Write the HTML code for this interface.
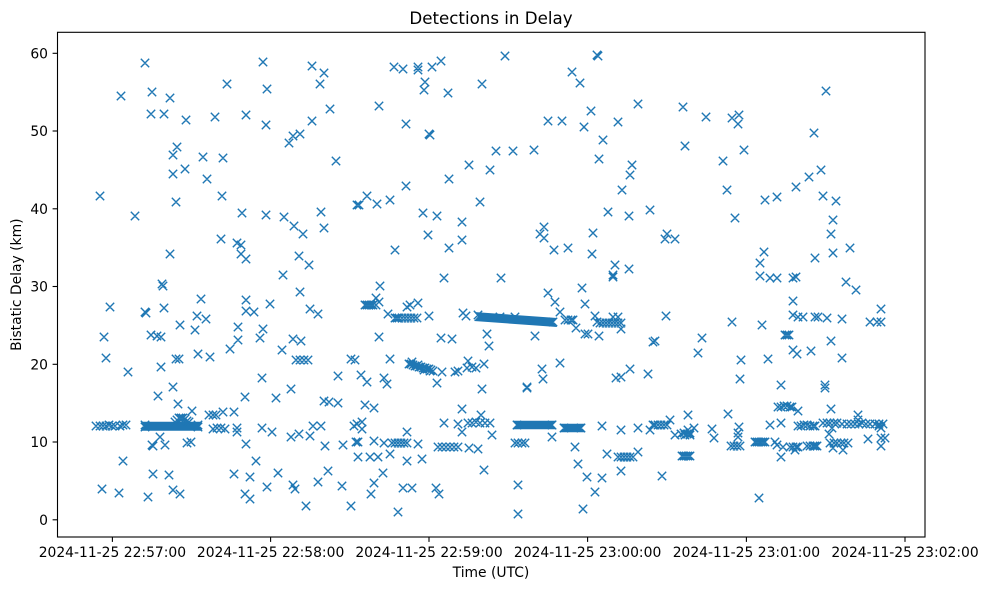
<!DOCTYPE html>
<html><head><meta charset="utf-8"><style>html,body{margin:0;padding:0;background:#fff}svg{display:block}text{font-family:"DejaVu Sans","Liberation Sans",sans-serif;fill:#000}</style></head><body>
<svg width="987" height="590" viewBox="0 0 987 590" xmlns="http://www.w3.org/2000/svg">
<rect width="987" height="590" fill="#fff"/>
<g fill="#1f77b4" stroke="none">
<polygon points="141,421.8 202,421.8 198,426.3 202,430.8 141,430.8 145,426.3"/>
<polygon points="474,312 557,318 553,322.5 557,327 474,321 478,316.5"/>
<polygon points="513.3,420.8 556.7,420.8 552.5,425 556.7,429.2 513.3,429.2 517.5,425"/>
<polygon points="560,423.8 585,423.8 581,428 585,432.2 560,432.2 564,428"/>
</g>
<path fill="none" stroke="#1f77b4" stroke-width="1.4" d="
M145 63m-4.2-4.2l8.4 8.4m-8.4 0l8.4-8.4M263 62m-4.2-4.2l8.4 8.4m-8.4 0l8.4-8.4M312 66m-4.2-4.2l8.4 8.4m-8.4 0l8.4-8.4M324 73m-4.2-4.2l8.4 8.4m-8.4 0l8.4-8.4M227 84m-4.2-4.2l8.4 8.4m-8.4 0l8.4-8.4M320 84m-4.2-4.2l8.4 8.4m-8.4 0l8.4-8.4M121 96m-4.2-4.2l8.4 8.4m-8.4 0l8.4-8.4M152 92m-4.2-4.2l8.4 8.4m-8.4 0l8.4-8.4M170 98m-4.2-4.2l8.4 8.4m-8.4 0l8.4-8.4M267 89m-4.2-4.2l8.4 8.4m-8.4 0l8.4-8.4M151 114m-4.2-4.2l8.4 8.4m-8.4 0l8.4-8.4M164 114m-4.2-4.2l8.4 8.4m-8.4 0l8.4-8.4M186 120m-4.2-4.2l8.4 8.4m-8.4 0l8.4-8.4M215 117m-4.2-4.2l8.4 8.4m-8.4 0l8.4-8.4M246 115m-4.2-4.2l8.4 8.4m-8.4 0l8.4-8.4M266 125m-4.2-4.2l8.4 8.4m-8.4 0l8.4-8.4M312 121m-4.2-4.2l8.4 8.4m-8.4 0l8.4-8.4M330 109m-4.2-4.2l8.4 8.4m-8.4 0l8.4-8.4M293 136m-4.2-4.2l8.4 8.4m-8.4 0l8.4-8.4M300 134m-4.2-4.2l8.4 8.4m-8.4 0l8.4-8.4M289 143m-4.2-4.2l8.4 8.4m-8.4 0l8.4-8.4M177 147m-4.2-4.2l8.4 8.4m-8.4 0l8.4-8.4M173 155m-4.2-4.2l8.4 8.4m-8.4 0l8.4-8.4M203 157m-4.2-4.2l8.4 8.4m-8.4 0l8.4-8.4M223 158m-4.2-4.2l8.4 8.4m-8.4 0l8.4-8.4M336 161m-4.2-4.2l8.4 8.4m-8.4 0l8.4-8.4M173 174m-4.2-4.2l8.4 8.4m-8.4 0l8.4-8.4M185 169m-4.2-4.2l8.4 8.4m-8.4 0l8.4-8.4M207 179m-4.2-4.2l8.4 8.4m-8.4 0l8.4-8.4M100 196m-4.2-4.2l8.4 8.4m-8.4 0l8.4-8.4M222 196m-4.2-4.2l8.4 8.4m-8.4 0l8.4-8.4M135 216m-4.2-4.2l8.4 8.4m-8.4 0l8.4-8.4M176 202m-4.2-4.2l8.4 8.4m-8.4 0l8.4-8.4M242 213m-4.2-4.2l8.4 8.4m-8.4 0l8.4-8.4M266 215m-4.2-4.2l8.4 8.4m-8.4 0l8.4-8.4M284 217m-4.2-4.2l8.4 8.4m-8.4 0l8.4-8.4M294 226m-4.2-4.2l8.4 8.4m-8.4 0l8.4-8.4M303 234m-4.2-4.2l8.4 8.4m-8.4 0l8.4-8.4M321 212m-4.2-4.2l8.4 8.4m-8.4 0l8.4-8.4M324 228m-4.2-4.2l8.4 8.4m-8.4 0l8.4-8.4M357 205m-4.2-4.2l8.4 8.4m-8.4 0l8.4-8.4M221 239m-4.2-4.2l8.4 8.4m-8.4 0l8.4-8.4M237 243m-4.2-4.2l8.4 8.4m-8.4 0l8.4-8.4M241 245m-4.2-4.2l8.4 8.4m-8.4 0l8.4-8.4M241 254m-4.2-4.2l8.4 8.4m-8.4 0l8.4-8.4M246 259m-4.2-4.2l8.4 8.4m-8.4 0l8.4-8.4M170 254m-4.2-4.2l8.4 8.4m-8.4 0l8.4-8.4M299 256m-4.2-4.2l8.4 8.4m-8.4 0l8.4-8.4M309 265m-4.2-4.2l8.4 8.4m-8.4 0l8.4-8.4M283 275m-4.2-4.2l8.4 8.4m-8.4 0l8.4-8.4
M162 284m-4.2-4.2l8.4 8.4m-8.4 0l8.4-8.4M163 286m-4.2-4.2l8.4 8.4m-8.4 0l8.4-8.4M110 307m-4.2-4.2l8.4 8.4m-8.4 0l8.4-8.4M145 312m-4.2-4.2l8.4 8.4m-8.4 0l8.4-8.4M146 313m-4.2-4.2l8.4 8.4m-8.4 0l8.4-8.4M164 308m-4.2-4.2l8.4 8.4m-8.4 0l8.4-8.4M201 299m-4.2-4.2l8.4 8.4m-8.4 0l8.4-8.4M246 300m-4.2-4.2l8.4 8.4m-8.4 0l8.4-8.4M300 292m-4.2-4.2l8.4 8.4m-8.4 0l8.4-8.4M270 304m-4.2-4.2l8.4 8.4m-8.4 0l8.4-8.4M246 311m-4.2-4.2l8.4 8.4m-8.4 0l8.4-8.4M254 312m-4.2-4.2l8.4 8.4m-8.4 0l8.4-8.4M310 309m-4.2-4.2l8.4 8.4m-8.4 0l8.4-8.4M318 314m-4.2-4.2l8.4 8.4m-8.4 0l8.4-8.4M197 316m-4.2-4.2l8.4 8.4m-8.4 0l8.4-8.4M206 319m-4.2-4.2l8.4 8.4m-8.4 0l8.4-8.4M180 325m-4.2-4.2l8.4 8.4m-8.4 0l8.4-8.4M238 327m-4.2-4.2l8.4 8.4m-8.4 0l8.4-8.4M263 329m-4.2-4.2l8.4 8.4m-8.4 0l8.4-8.4M104 337m-4.2-4.2l8.4 8.4m-8.4 0l8.4-8.4M151 335m-4.2-4.2l8.4 8.4m-8.4 0l8.4-8.4M157 336m-4.2-4.2l8.4 8.4m-8.4 0l8.4-8.4M161 337m-4.2-4.2l8.4 8.4m-8.4 0l8.4-8.4M195 330m-4.2-4.2l8.4 8.4m-8.4 0l8.4-8.4M238 340m-4.2-4.2l8.4 8.4m-8.4 0l8.4-8.4M260 338m-4.2-4.2l8.4 8.4m-8.4 0l8.4-8.4M293 339m-4.2-4.2l8.4 8.4m-8.4 0l8.4-8.4M301 341m-4.2-4.2l8.4 8.4m-8.4 0l8.4-8.4M230 349m-4.2-4.2l8.4 8.4m-8.4 0l8.4-8.4M282 350m-4.2-4.2l8.4 8.4m-8.4 0l8.4-8.4M106 358m-4.2-4.2l8.4 8.4m-8.4 0l8.4-8.4M176 359m-4.2-4.2l8.4 8.4m-8.4 0l8.4-8.4M179 359m-4.2-4.2l8.4 8.4m-8.4 0l8.4-8.4M198 354m-4.2-4.2l8.4 8.4m-8.4 0l8.4-8.4M210 357m-4.2-4.2l8.4 8.4m-8.4 0l8.4-8.4M296 360m-4.2-4.2l8.4 8.4m-8.4 0l8.4-8.4M300 360m-4.2-4.2l8.4 8.4m-8.4 0l8.4-8.4M304 360m-4.2-4.2l8.4 8.4m-8.4 0l8.4-8.4M308 360m-4.2-4.2l8.4 8.4m-8.4 0l8.4-8.4M351 359m-4.2-4.2l8.4 8.4m-8.4 0l8.4-8.4M128 372m-4.2-4.2l8.4 8.4m-8.4 0l8.4-8.4M161 367m-4.2-4.2l8.4 8.4m-8.4 0l8.4-8.4M262 378m-4.2-4.2l8.4 8.4m-8.4 0l8.4-8.4M338 376m-4.2-4.2l8.4 8.4m-8.4 0l8.4-8.4M173 387m-4.2-4.2l8.4 8.4m-8.4 0l8.4-8.4M158 396m-4.2-4.2l8.4 8.4m-8.4 0l8.4-8.4M245 397m-4.2-4.2l8.4 8.4m-8.4 0l8.4-8.4M276 398m-4.2-4.2l8.4 8.4m-8.4 0l8.4-8.4M291 389m-4.2-4.2l8.4 8.4m-8.4 0l8.4-8.4M178 404m-4.2-4.2l8.4 8.4m-8.4 0l8.4-8.4M192 411m-4.2-4.2l8.4 8.4m-8.4 0l8.4-8.4M324 401m-4.2-4.2l8.4 8.4m-8.4 0l8.4-8.4M329 402m-4.2-4.2l8.4 8.4m-8.4 0l8.4-8.4M338 403m-4.2-4.2l8.4 8.4m-8.4 0l8.4-8.4M209 415m-4.2-4.2l8.4 8.4m-8.4 0l8.4-8.4M213 415m-4.2-4.2l8.4 8.4m-8.4 0l8.4-8.4M216 415m-4.2-4.2l8.4 8.4m-8.4 0l8.4-8.4M223 412m-4.2-4.2l8.4 8.4m-8.4 0l8.4-8.4M234 412m-4.2-4.2l8.4 8.4m-8.4 0l8.4-8.4
M96 426m-4.2-4.2l8.4 8.4m-8.4 0l8.4-8.4M100 426m-4.2-4.2l8.4 8.4m-8.4 0l8.4-8.4M103 426m-4.2-4.2l8.4 8.4m-8.4 0l8.4-8.4M106 426m-4.2-4.2l8.4 8.4m-8.4 0l8.4-8.4M109 425m-4.2-4.2l8.4 8.4m-8.4 0l8.4-8.4M112 426m-4.2-4.2l8.4 8.4m-8.4 0l8.4-8.4M115 426m-4.2-4.2l8.4 8.4m-8.4 0l8.4-8.4M120 426m-4.2-4.2l8.4 8.4m-8.4 0l8.4-8.4M123 425m-4.2-4.2l8.4 8.4m-8.4 0l8.4-8.4M126 425m-4.2-4.2l8.4 8.4m-8.4 0l8.4-8.4
M145 425m-4.2-4.2l8.4 8.4m-8.4 0l8.4-8.4M145 427m-4.2-4.2l8.4 8.4m-8.4 0l8.4-8.4M198 425m-4.2-4.2l8.4 8.4m-8.4 0l8.4-8.4M198 427m-4.2-4.2l8.4 8.4m-8.4 0l8.4-8.4M177 420m-4.2-4.2l8.4 8.4m-8.4 0l8.4-8.4M179 418m-4.2-4.2l8.4 8.4m-8.4 0l8.4-8.4M181 418m-4.2-4.2l8.4 8.4m-8.4 0l8.4-8.4M183 418m-4.2-4.2l8.4 8.4m-8.4 0l8.4-8.4M185 419m-4.2-4.2l8.4 8.4m-8.4 0l8.4-8.4M187 421m-4.2-4.2l8.4 8.4m-8.4 0l8.4-8.4M175 422m-4.2-4.2l8.4 8.4m-8.4 0l8.4-8.4M189 422m-4.2-4.2l8.4 8.4m-8.4 0l8.4-8.4
M213 429m-4.2-4.2l8.4 8.4m-8.4 0l8.4-8.4M217 428m-4.2-4.2l8.4 8.4m-8.4 0l8.4-8.4M221 428m-4.2-4.2l8.4 8.4m-8.4 0l8.4-8.4M225 429m-4.2-4.2l8.4 8.4m-8.4 0l8.4-8.4M237 428m-4.2-4.2l8.4 8.4m-8.4 0l8.4-8.4M237 432m-4.2-4.2l8.4 8.4m-8.4 0l8.4-8.4M262 428m-4.2-4.2l8.4 8.4m-8.4 0l8.4-8.4M272 432m-4.2-4.2l8.4 8.4m-8.4 0l8.4-8.4M291 437m-4.2-4.2l8.4 8.4m-8.4 0l8.4-8.4M299 434m-4.2-4.2l8.4 8.4m-8.4 0l8.4-8.4M310 436m-4.2-4.2l8.4 8.4m-8.4 0l8.4-8.4M313 426m-4.2-4.2l8.4 8.4m-8.4 0l8.4-8.4M321 426m-4.2-4.2l8.4 8.4m-8.4 0l8.4-8.4M354 426m-4.2-4.2l8.4 8.4m-8.4 0l8.4-8.4M160 437m-4.2-4.2l8.4 8.4m-8.4 0l8.4-8.4M152 445m-4.2-4.2l8.4 8.4m-8.4 0l8.4-8.4M153 446m-4.2-4.2l8.4 8.4m-8.4 0l8.4-8.4M165 445m-4.2-4.2l8.4 8.4m-8.4 0l8.4-8.4M187 443m-4.2-4.2l8.4 8.4m-8.4 0l8.4-8.4M191 442m-4.2-4.2l8.4 8.4m-8.4 0l8.4-8.4M246 444m-4.2-4.2l8.4 8.4m-8.4 0l8.4-8.4M325 446m-4.2-4.2l8.4 8.4m-8.4 0l8.4-8.4M343 445m-4.2-4.2l8.4 8.4m-8.4 0l8.4-8.4M356 442m-4.2-4.2l8.4 8.4m-8.4 0l8.4-8.4M358 457m-4.2-4.2l8.4 8.4m-8.4 0l8.4-8.4M123 461m-4.2-4.2l8.4 8.4m-8.4 0l8.4-8.4M256 461m-4.2-4.2l8.4 8.4m-8.4 0l8.4-8.4M153 474m-4.2-4.2l8.4 8.4m-8.4 0l8.4-8.4M169 475m-4.2-4.2l8.4 8.4m-8.4 0l8.4-8.4M234 474m-4.2-4.2l8.4 8.4m-8.4 0l8.4-8.4M250 477m-4.2-4.2l8.4 8.4m-8.4 0l8.4-8.4M278 473m-4.2-4.2l8.4 8.4m-8.4 0l8.4-8.4M328 471m-4.2-4.2l8.4 8.4m-8.4 0l8.4-8.4M318 482m-4.2-4.2l8.4 8.4m-8.4 0l8.4-8.4M102 489m-4.2-4.2l8.4 8.4m-8.4 0l8.4-8.4M119 493m-4.2-4.2l8.4 8.4m-8.4 0l8.4-8.4M148 497m-4.2-4.2l8.4 8.4m-8.4 0l8.4-8.4M173 490m-4.2-4.2l8.4 8.4m-8.4 0l8.4-8.4M180 494m-4.2-4.2l8.4 8.4m-8.4 0l8.4-8.4M245 494m-4.2-4.2l8.4 8.4m-8.4 0l8.4-8.4M250 499m-4.2-4.2l8.4 8.4m-8.4 0l8.4-8.4M267 487m-4.2-4.2l8.4 8.4m-8.4 0l8.4-8.4M293 485m-4.2-4.2l8.4 8.4m-8.4 0l8.4-8.4M295 489m-4.2-4.2l8.4 8.4m-8.4 0l8.4-8.4M342 486m-4.2-4.2l8.4 8.4m-8.4 0l8.4-8.4M306 506m-4.2-4.2l8.4 8.4m-8.4 0l8.4-8.4M351 506m-4.2-4.2l8.4 8.4m-8.4 0l8.4-8.4
M394 67m-4.2-4.2l8.4 8.4m-8.4 0l8.4-8.4M403 69m-4.2-4.2l8.4 8.4m-8.4 0l8.4-8.4M418 67m-4.2-4.2l8.4 8.4m-8.4 0l8.4-8.4M418 70m-4.2-4.2l8.4 8.4m-8.4 0l8.4-8.4M432 67m-4.2-4.2l8.4 8.4m-8.4 0l8.4-8.4M441 61m-4.2-4.2l8.4 8.4m-8.4 0l8.4-8.4M505 56m-4.2-4.2l8.4 8.4m-8.4 0l8.4-8.4M597 55m-4.2-4.2l8.4 8.4m-8.4 0l8.4-8.4M598 56m-4.2-4.2l8.4 8.4m-8.4 0l8.4-8.4M572 72m-4.2-4.2l8.4 8.4m-8.4 0l8.4-8.4M580 83m-4.2-4.2l8.4 8.4m-8.4 0l8.4-8.4M425 82m-4.2-4.2l8.4 8.4m-8.4 0l8.4-8.4M424 90m-4.2-4.2l8.4 8.4m-8.4 0l8.4-8.4M448 93m-4.2-4.2l8.4 8.4m-8.4 0l8.4-8.4M482 84m-4.2-4.2l8.4 8.4m-8.4 0l8.4-8.4M379 106m-4.2-4.2l8.4 8.4m-8.4 0l8.4-8.4M638 104m-4.2-4.2l8.4 8.4m-8.4 0l8.4-8.4M591 111m-4.2-4.2l8.4 8.4m-8.4 0l8.4-8.4M548 121m-4.2-4.2l8.4 8.4m-8.4 0l8.4-8.4M562 121m-4.2-4.2l8.4 8.4m-8.4 0l8.4-8.4M584 127m-4.2-4.2l8.4 8.4m-8.4 0l8.4-8.4M618 122m-4.2-4.2l8.4 8.4m-8.4 0l8.4-8.4M406 124m-4.2-4.2l8.4 8.4m-8.4 0l8.4-8.4M429 134m-4.2-4.2l8.4 8.4m-8.4 0l8.4-8.4M430 135m-4.2-4.2l8.4 8.4m-8.4 0l8.4-8.4M603 140m-4.2-4.2l8.4 8.4m-8.4 0l8.4-8.4M496 151m-4.2-4.2l8.4 8.4m-8.4 0l8.4-8.4M513 151m-4.2-4.2l8.4 8.4m-8.4 0l8.4-8.4M534 150m-4.2-4.2l8.4 8.4m-8.4 0l8.4-8.4M599 159m-4.2-4.2l8.4 8.4m-8.4 0l8.4-8.4M469 165m-4.2-4.2l8.4 8.4m-8.4 0l8.4-8.4M490 170m-4.2-4.2l8.4 8.4m-8.4 0l8.4-8.4M632 165m-4.2-4.2l8.4 8.4m-8.4 0l8.4-8.4M630 175m-4.2-4.2l8.4 8.4m-8.4 0l8.4-8.4M449 179m-4.2-4.2l8.4 8.4m-8.4 0l8.4-8.4M622 190m-4.2-4.2l8.4 8.4m-8.4 0l8.4-8.4M406 186m-4.2-4.2l8.4 8.4m-8.4 0l8.4-8.4M367 196m-4.2-4.2l8.4 8.4m-8.4 0l8.4-8.4M359 205m-4.2-4.2l8.4 8.4m-8.4 0l8.4-8.4M377 204m-4.2-4.2l8.4 8.4m-8.4 0l8.4-8.4M390 200m-4.2-4.2l8.4 8.4m-8.4 0l8.4-8.4M480 202m-4.2-4.2l8.4 8.4m-8.4 0l8.4-8.4M423 213m-4.2-4.2l8.4 8.4m-8.4 0l8.4-8.4M437 216m-4.2-4.2l8.4 8.4m-8.4 0l8.4-8.4M462 222m-4.2-4.2l8.4 8.4m-8.4 0l8.4-8.4M428 235m-4.2-4.2l8.4 8.4m-8.4 0l8.4-8.4M462 240m-4.2-4.2l8.4 8.4m-8.4 0l8.4-8.4M608 212m-4.2-4.2l8.4 8.4m-8.4 0l8.4-8.4M629 216m-4.2-4.2l8.4 8.4m-8.4 0l8.4-8.4M650 210m-4.2-4.2l8.4 8.4m-8.4 0l8.4-8.4M544 227m-4.2-4.2l8.4 8.4m-8.4 0l8.4-8.4M540 234m-4.2-4.2l8.4 8.4m-8.4 0l8.4-8.4M544 238m-4.2-4.2l8.4 8.4m-8.4 0l8.4-8.4M593 233m-4.2-4.2l8.4 8.4m-8.4 0l8.4-8.4M395 250m-4.2-4.2l8.4 8.4m-8.4 0l8.4-8.4M449 248m-4.2-4.2l8.4 8.4m-8.4 0l8.4-8.4M554 250m-4.2-4.2l8.4 8.4m-8.4 0l8.4-8.4M568 248m-4.2-4.2l8.4 8.4m-8.4 0l8.4-8.4M592 254m-4.2-4.2l8.4 8.4m-8.4 0l8.4-8.4M615 265m-4.2-4.2l8.4 8.4m-8.4 0l8.4-8.4M629 269m-4.2-4.2l8.4 8.4m-8.4 0l8.4-8.4M613 275m-4.2-4.2l8.4 8.4m-8.4 0l8.4-8.4M444 278m-4.2-4.2l8.4 8.4m-8.4 0l8.4-8.4M501 278m-4.2-4.2l8.4 8.4m-8.4 0l8.4-8.4
M613 277m-4.2-4.2l8.4 8.4m-8.4 0l8.4-8.4M380 286m-4.2-4.2l8.4 8.4m-8.4 0l8.4-8.4M376 298m-4.2-4.2l8.4 8.4m-8.4 0l8.4-8.4M379 302m-4.2-4.2l8.4 8.4m-8.4 0l8.4-8.4M365 305m-4.2-4.2l8.4 8.4m-8.4 0l8.4-8.4M367 305m-4.2-4.2l8.4 8.4m-8.4 0l8.4-8.4M369 305m-4.2-4.2l8.4 8.4m-8.4 0l8.4-8.4M371 305m-4.2-4.2l8.4 8.4m-8.4 0l8.4-8.4M373 305m-4.2-4.2l8.4 8.4m-8.4 0l8.4-8.4M376 305m-4.2-4.2l8.4 8.4m-8.4 0l8.4-8.4M388 314m-4.2-4.2l8.4 8.4m-8.4 0l8.4-8.4M395 318m-4.2-4.2l8.4 8.4m-8.4 0l8.4-8.4M397 318m-4.2-4.2l8.4 8.4m-8.4 0l8.4-8.4M399 318m-4.2-4.2l8.4 8.4m-8.4 0l8.4-8.4M402 318m-4.2-4.2l8.4 8.4m-8.4 0l8.4-8.4M407 307m-4.2-4.2l8.4 8.4m-8.4 0l8.4-8.4M410 305m-4.2-4.2l8.4 8.4m-8.4 0l8.4-8.4M418 303m-4.2-4.2l8.4 8.4m-8.4 0l8.4-8.4M405 318m-4.2-4.2l8.4 8.4m-8.4 0l8.4-8.4M408 318m-4.2-4.2l8.4 8.4m-8.4 0l8.4-8.4M411 318m-4.2-4.2l8.4 8.4m-8.4 0l8.4-8.4M414 318m-4.2-4.2l8.4 8.4m-8.4 0l8.4-8.4M417 318m-4.2-4.2l8.4 8.4m-8.4 0l8.4-8.4M429 316m-4.2-4.2l8.4 8.4m-8.4 0l8.4-8.4M548 293m-4.2-4.2l8.4 8.4m-8.4 0l8.4-8.4M555 302m-4.2-4.2l8.4 8.4m-8.4 0l8.4-8.4M582 288m-4.2-4.2l8.4 8.4m-8.4 0l8.4-8.4M585 304m-4.2-4.2l8.4 8.4m-8.4 0l8.4-8.4M463 313m-4.2-4.2l8.4 8.4m-8.4 0l8.4-8.4M466 316m-4.2-4.2l8.4 8.4m-8.4 0l8.4-8.4M478 315m-4.2-4.2l8.4 8.4m-8.4 0l8.4-8.4M553 322m-4.2-4.2l8.4 8.4m-8.4 0l8.4-8.4M500 317m-4.2-4.2l8.4 8.4m-8.4 0l8.4-8.4M515 317m-4.2-4.2l8.4 8.4m-8.4 0l8.4-8.4M560 312m-4.2-4.2l8.4 8.4m-8.4 0l8.4-8.4M565 320m-4.2-4.2l8.4 8.4m-8.4 0l8.4-8.4M568 320m-4.2-4.2l8.4 8.4m-8.4 0l8.4-8.4M571 320m-4.2-4.2l8.4 8.4m-8.4 0l8.4-8.4M573 320m-4.2-4.2l8.4 8.4m-8.4 0l8.4-8.4M576 328m-4.2-4.2l8.4 8.4m-8.4 0l8.4-8.4M585 334m-4.2-4.2l8.4 8.4m-8.4 0l8.4-8.4M588 334m-4.2-4.2l8.4 8.4m-8.4 0l8.4-8.4M595 316m-4.2-4.2l8.4 8.4m-8.4 0l8.4-8.4M597 322m-4.2-4.2l8.4 8.4m-8.4 0l8.4-8.4M600 323m-4.2-4.2l8.4 8.4m-8.4 0l8.4-8.4M603 323m-4.2-4.2l8.4 8.4m-8.4 0l8.4-8.4M606 323m-4.2-4.2l8.4 8.4m-8.4 0l8.4-8.4M609 323m-4.2-4.2l8.4 8.4m-8.4 0l8.4-8.4M612 323m-4.2-4.2l8.4 8.4m-8.4 0l8.4-8.4M615 323m-4.2-4.2l8.4 8.4m-8.4 0l8.4-8.4M618 323m-4.2-4.2l8.4 8.4m-8.4 0l8.4-8.4M621 323m-4.2-4.2l8.4 8.4m-8.4 0l8.4-8.4M613 317m-4.2-4.2l8.4 8.4m-8.4 0l8.4-8.4M618 317m-4.2-4.2l8.4 8.4m-8.4 0l8.4-8.4M621 329m-4.2-4.2l8.4 8.4m-8.4 0l8.4-8.4M599 336m-4.2-4.2l8.4 8.4m-8.4 0l8.4-8.4M535 336m-4.2-4.2l8.4 8.4m-8.4 0l8.4-8.4M487 334m-4.2-4.2l8.4 8.4m-8.4 0l8.4-8.4M489 346m-4.2-4.2l8.4 8.4m-8.4 0l8.4-8.4M441 338m-4.2-4.2l8.4 8.4m-8.4 0l8.4-8.4M452 339m-4.2-4.2l8.4 8.4m-8.4 0l8.4-8.4M379 337m-4.2-4.2l8.4 8.4m-8.4 0l8.4-8.4M653 342m-4.2-4.2l8.4 8.4m-8.4 0l8.4-8.4M390 359m-4.2-4.2l8.4 8.4m-8.4 0l8.4-8.4
M409 364m-4.2-4.2l8.4 8.4m-8.4 0l8.4-8.4M411 364m-4.2-4.2l8.4 8.4m-8.4 0l8.4-8.4M413 365m-4.2-4.2l8.4 8.4m-8.4 0l8.4-8.4M415 366m-4.2-4.2l8.4 8.4m-8.4 0l8.4-8.4M417 366m-4.2-4.2l8.4 8.4m-8.4 0l8.4-8.4M419 367m-4.2-4.2l8.4 8.4m-8.4 0l8.4-8.4M421 367m-4.2-4.2l8.4 8.4m-8.4 0l8.4-8.4M423 368m-4.2-4.2l8.4 8.4m-8.4 0l8.4-8.4M425 368m-4.2-4.2l8.4 8.4m-8.4 0l8.4-8.4M427 369m-4.2-4.2l8.4 8.4m-8.4 0l8.4-8.4M429 369m-4.2-4.2l8.4 8.4m-8.4 0l8.4-8.4M431 370m-4.2-4.2l8.4 8.4m-8.4 0l8.4-8.4M433 371m-4.2-4.2l8.4 8.4m-8.4 0l8.4-8.4M412 362m-4.2-4.2l8.4 8.4m-8.4 0l8.4-8.4M418 365m-4.2-4.2l8.4 8.4m-8.4 0l8.4-8.4M424 370m-4.2-4.2l8.4 8.4m-8.4 0l8.4-8.4M430 371m-4.2-4.2l8.4 8.4m-8.4 0l8.4-8.4
M442 372m-4.2-4.2l8.4 8.4m-8.4 0l8.4-8.4M455 372m-4.2-4.2l8.4 8.4m-8.4 0l8.4-8.4M458 371m-4.2-4.2l8.4 8.4m-8.4 0l8.4-8.4M468 361m-4.2-4.2l8.4 8.4m-8.4 0l8.4-8.4M467 368m-4.2-4.2l8.4 8.4m-8.4 0l8.4-8.4M472 367m-4.2-4.2l8.4 8.4m-8.4 0l8.4-8.4M476 368m-4.2-4.2l8.4 8.4m-8.4 0l8.4-8.4M484 364m-4.2-4.2l8.4 8.4m-8.4 0l8.4-8.4M542 369m-4.2-4.2l8.4 8.4m-8.4 0l8.4-8.4M543 379m-4.2-4.2l8.4 8.4m-8.4 0l8.4-8.4M560 363m-4.2-4.2l8.4 8.4m-8.4 0l8.4-8.4M527 387m-4.2-4.2l8.4 8.4m-8.4 0l8.4-8.4M527 388m-4.2-4.2l8.4 8.4m-8.4 0l8.4-8.4M482 389m-4.2-4.2l8.4 8.4m-8.4 0l8.4-8.4M437 383m-4.2-4.2l8.4 8.4m-8.4 0l8.4-8.4M361 375m-4.2-4.2l8.4 8.4m-8.4 0l8.4-8.4M367 382m-4.2-4.2l8.4 8.4m-8.4 0l8.4-8.4M384 378m-4.2-4.2l8.4 8.4m-8.4 0l8.4-8.4M387 384m-4.2-4.2l8.4 8.4m-8.4 0l8.4-8.4M355 360m-4.2-4.2l8.4 8.4m-8.4 0l8.4-8.4M616 378m-4.2-4.2l8.4 8.4m-8.4 0l8.4-8.4M621 377m-4.2-4.2l8.4 8.4m-8.4 0l8.4-8.4M630 369m-4.2-4.2l8.4 8.4m-8.4 0l8.4-8.4M648 374m-4.2-4.2l8.4 8.4m-8.4 0l8.4-8.4M365 405m-4.2-4.2l8.4 8.4m-8.4 0l8.4-8.4M374 408m-4.2-4.2l8.4 8.4m-8.4 0l8.4-8.4M462 409m-4.2-4.2l8.4 8.4m-8.4 0l8.4-8.4M481 415m-4.2-4.2l8.4 8.4m-8.4 0l8.4-8.4M362 422m-4.2-4.2l8.4 8.4m-8.4 0l8.4-8.4M357 424m-4.2-4.2l8.4 8.4m-8.4 0l8.4-8.4M362 429m-4.2-4.2l8.4 8.4m-8.4 0l8.4-8.4M444 423m-4.2-4.2l8.4 8.4m-8.4 0l8.4-8.4M458 424m-4.2-4.2l8.4 8.4m-8.4 0l8.4-8.4M462 432m-4.2-4.2l8.4 8.4m-8.4 0l8.4-8.4M468 423m-4.2-4.2l8.4 8.4m-8.4 0l8.4-8.4M472 423m-4.2-4.2l8.4 8.4m-8.4 0l8.4-8.4M476 422m-4.2-4.2l8.4 8.4m-8.4 0l8.4-8.4M480 423m-4.2-4.2l8.4 8.4m-8.4 0l8.4-8.4M485 423m-4.2-4.2l8.4 8.4m-8.4 0l8.4-8.4M490 423m-4.2-4.2l8.4 8.4m-8.4 0l8.4-8.4M492 435m-4.2-4.2l8.4 8.4m-8.4 0l8.4-8.4M517 425m-4.2-4.2l8.4 8.4m-8.4 0l8.4-8.4M552 425m-4.2-4.2l8.4 8.4m-8.4 0l8.4-8.4M564 428m-4.2-4.2l8.4 8.4m-8.4 0l8.4-8.4M581 428m-4.2-4.2l8.4 8.4m-8.4 0l8.4-8.4M602 426m-4.2-4.2l8.4 8.4m-8.4 0l8.4-8.4M621 430m-4.2-4.2l8.4 8.4m-8.4 0l8.4-8.4M638 428m-4.2-4.2l8.4 8.4m-8.4 0l8.4-8.4M650 430m-4.2-4.2l8.4 8.4m-8.4 0l8.4-8.4M653 425m-4.2-4.2l8.4 8.4m-8.4 0l8.4-8.4M407 432m-4.2-4.2l8.4 8.4m-8.4 0l8.4-8.4M552 437m-4.2-4.2l8.4 8.4m-8.4 0l8.4-8.4M358 442m-4.2-4.2l8.4 8.4m-8.4 0l8.4-8.4M374 441m-4.2-4.2l8.4 8.4m-8.4 0l8.4-8.4M384 443m-4.2-4.2l8.4 8.4m-8.4 0l8.4-8.4M392 443m-4.2-4.2l8.4 8.4m-8.4 0l8.4-8.4M395 443m-4.2-4.2l8.4 8.4m-8.4 0l8.4-8.4M398 443m-4.2-4.2l8.4 8.4m-8.4 0l8.4-8.4M401 443m-4.2-4.2l8.4 8.4m-8.4 0l8.4-8.4M404 443m-4.2-4.2l8.4 8.4m-8.4 0l8.4-8.4M407 443m-4.2-4.2l8.4 8.4m-8.4 0l8.4-8.4M418 444m-4.2-4.2l8.4 8.4m-8.4 0l8.4-8.4M438 447m-4.2-4.2l8.4 8.4m-8.4 0l8.4-8.4M442 447m-4.2-4.2l8.4 8.4m-8.4 0l8.4-8.4M446 447m-4.2-4.2l8.4 8.4m-8.4 0l8.4-8.4M450 447m-4.2-4.2l8.4 8.4m-8.4 0l8.4-8.4M454 447m-4.2-4.2l8.4 8.4m-8.4 0l8.4-8.4M458 447m-4.2-4.2l8.4 8.4m-8.4 0l8.4-8.4M469 448m-4.2-4.2l8.4 8.4m-8.4 0l8.4-8.4M478 449m-4.2-4.2l8.4 8.4m-8.4 0l8.4-8.4M515 443m-4.2-4.2l8.4 8.4m-8.4 0l8.4-8.4M518 443m-4.2-4.2l8.4 8.4m-8.4 0l8.4-8.4M522 443m-4.2-4.2l8.4 8.4m-8.4 0l8.4-8.4M525 443m-4.2-4.2l8.4 8.4m-8.4 0l8.4-8.4M575 447m-4.2-4.2l8.4 8.4m-8.4 0l8.4-8.4M607 454m-4.2-4.2l8.4 8.4m-8.4 0l8.4-8.4M618 457m-4.2-4.2l8.4 8.4m-8.4 0l8.4-8.4M621 457m-4.2-4.2l8.4 8.4m-8.4 0l8.4-8.4M624 457m-4.2-4.2l8.4 8.4m-8.4 0l8.4-8.4M627 457m-4.2-4.2l8.4 8.4m-8.4 0l8.4-8.4M630 457m-4.2-4.2l8.4 8.4m-8.4 0l8.4-8.4M633 457m-4.2-4.2l8.4 8.4m-8.4 0l8.4-8.4M638 452m-4.2-4.2l8.4 8.4m-8.4 0l8.4-8.4M358 457m-4.2-4.2l8.4 8.4m-8.4 0l8.4-8.4M370 457m-4.2-4.2l8.4 8.4m-8.4 0l8.4-8.4M378 457m-4.2-4.2l8.4 8.4m-8.4 0l8.4-8.4M390 454m-4.2-4.2l8.4 8.4m-8.4 0l8.4-8.4M407 461m-4.2-4.2l8.4 8.4m-8.4 0l8.4-8.4M422 459m-4.2-4.2l8.4 8.4m-8.4 0l8.4-8.4M578 464m-4.2-4.2l8.4 8.4m-8.4 0l8.4-8.4M383 473m-4.2-4.2l8.4 8.4m-8.4 0l8.4-8.4M374 483m-4.2-4.2l8.4 8.4m-8.4 0l8.4-8.4M371 494m-4.2-4.2l8.4 8.4m-8.4 0l8.4-8.4M484 470m-4.2-4.2l8.4 8.4m-8.4 0l8.4-8.4M403 488m-4.2-4.2l8.4 8.4m-8.4 0l8.4-8.4M412 488m-4.2-4.2l8.4 8.4m-8.4 0l8.4-8.4M436 488m-4.2-4.2l8.4 8.4m-8.4 0l8.4-8.4M439 494m-4.2-4.2l8.4 8.4m-8.4 0l8.4-8.4M518 485m-4.2-4.2l8.4 8.4m-8.4 0l8.4-8.4M587 477m-4.2-4.2l8.4 8.4m-8.4 0l8.4-8.4M602 478m-4.2-4.2l8.4 8.4m-8.4 0l8.4-8.4M621 471m-4.2-4.2l8.4 8.4m-8.4 0l8.4-8.4M595 492m-4.2-4.2l8.4 8.4m-8.4 0l8.4-8.4M398 512m-4.2-4.2l8.4 8.4m-8.4 0l8.4-8.4M518 514m-4.2-4.2l8.4 8.4m-8.4 0l8.4-8.4M583 509m-4.2-4.2l8.4 8.4m-8.4 0l8.4-8.4
M826 91m-4.2-4.2l8.4 8.4m-8.4 0l8.4-8.4M683 107m-4.2-4.2l8.4 8.4m-8.4 0l8.4-8.4M706 117m-4.2-4.2l8.4 8.4m-8.4 0l8.4-8.4M732 118m-4.2-4.2l8.4 8.4m-8.4 0l8.4-8.4M739 115m-4.2-4.2l8.4 8.4m-8.4 0l8.4-8.4M738 124m-4.2-4.2l8.4 8.4m-8.4 0l8.4-8.4M814 133m-4.2-4.2l8.4 8.4m-8.4 0l8.4-8.4M685 146m-4.2-4.2l8.4 8.4m-8.4 0l8.4-8.4M744 150m-4.2-4.2l8.4 8.4m-8.4 0l8.4-8.4M723 161m-4.2-4.2l8.4 8.4m-8.4 0l8.4-8.4M821 170m-4.2-4.2l8.4 8.4m-8.4 0l8.4-8.4M809 177m-4.2-4.2l8.4 8.4m-8.4 0l8.4-8.4M796 187m-4.2-4.2l8.4 8.4m-8.4 0l8.4-8.4M727 190m-4.2-4.2l8.4 8.4m-8.4 0l8.4-8.4M765 200m-4.2-4.2l8.4 8.4m-8.4 0l8.4-8.4M777 197m-4.2-4.2l8.4 8.4m-8.4 0l8.4-8.4M823 196m-4.2-4.2l8.4 8.4m-8.4 0l8.4-8.4M836 201m-4.2-4.2l8.4 8.4m-8.4 0l8.4-8.4M735 218m-4.2-4.2l8.4 8.4m-8.4 0l8.4-8.4M833 220m-4.2-4.2l8.4 8.4m-8.4 0l8.4-8.4M831 234m-4.2-4.2l8.4 8.4m-8.4 0l8.4-8.4M667 234m-4.2-4.2l8.4 8.4m-8.4 0l8.4-8.4M665 239m-4.2-4.2l8.4 8.4m-8.4 0l8.4-8.4M675 239m-4.2-4.2l8.4 8.4m-8.4 0l8.4-8.4M764 252m-4.2-4.2l8.4 8.4m-8.4 0l8.4-8.4M760 263m-4.2-4.2l8.4 8.4m-8.4 0l8.4-8.4M815 258m-4.2-4.2l8.4 8.4m-8.4 0l8.4-8.4M833 253m-4.2-4.2l8.4 8.4m-8.4 0l8.4-8.4M850 248m-4.2-4.2l8.4 8.4m-8.4 0l8.4-8.4M760 276m-4.2-4.2l8.4 8.4m-8.4 0l8.4-8.4M770 278m-4.2-4.2l8.4 8.4m-8.4 0l8.4-8.4M777 278m-4.2-4.2l8.4 8.4m-8.4 0l8.4-8.4M793 278m-4.2-4.2l8.4 8.4m-8.4 0l8.4-8.4M796 277m-4.2-4.2l8.4 8.4m-8.4 0l8.4-8.4
M846 282m-4.2-4.2l8.4 8.4m-8.4 0l8.4-8.4M856 290m-4.2-4.2l8.4 8.4m-8.4 0l8.4-8.4M793 301m-4.2-4.2l8.4 8.4m-8.4 0l8.4-8.4M793 315m-4.2-4.2l8.4 8.4m-8.4 0l8.4-8.4M798 317m-4.2-4.2l8.4 8.4m-8.4 0l8.4-8.4M803 317m-4.2-4.2l8.4 8.4m-8.4 0l8.4-8.4M815 317m-4.2-4.2l8.4 8.4m-8.4 0l8.4-8.4M818 317m-4.2-4.2l8.4 8.4m-8.4 0l8.4-8.4M827 318m-4.2-4.2l8.4 8.4m-8.4 0l8.4-8.4M842 319m-4.2-4.2l8.4 8.4m-8.4 0l8.4-8.4M881 309m-4.2-4.2l8.4 8.4m-8.4 0l8.4-8.4M870 322m-4.2-4.2l8.4 8.4m-8.4 0l8.4-8.4M877 322m-4.2-4.2l8.4 8.4m-8.4 0l8.4-8.4M881 322m-4.2-4.2l8.4 8.4m-8.4 0l8.4-8.4M666 316m-4.2-4.2l8.4 8.4m-8.4 0l8.4-8.4M732 322m-4.2-4.2l8.4 8.4m-8.4 0l8.4-8.4M762 325m-4.2-4.2l8.4 8.4m-8.4 0l8.4-8.4M785 335m-4.2-4.2l8.4 8.4m-8.4 0l8.4-8.4M787 335m-4.2-4.2l8.4 8.4m-8.4 0l8.4-8.4M789 335m-4.2-4.2l8.4 8.4m-8.4 0l8.4-8.4M655 341m-4.2-4.2l8.4 8.4m-8.4 0l8.4-8.4M702 338m-4.2-4.2l8.4 8.4m-8.4 0l8.4-8.4M698 353m-4.2-4.2l8.4 8.4m-8.4 0l8.4-8.4M741 360m-4.2-4.2l8.4 8.4m-8.4 0l8.4-8.4M768 359m-4.2-4.2l8.4 8.4m-8.4 0l8.4-8.4M793 350m-4.2-4.2l8.4 8.4m-8.4 0l8.4-8.4M797 354m-4.2-4.2l8.4 8.4m-8.4 0l8.4-8.4M811 351m-4.2-4.2l8.4 8.4m-8.4 0l8.4-8.4M831 341m-4.2-4.2l8.4 8.4m-8.4 0l8.4-8.4M842 358m-4.2-4.2l8.4 8.4m-8.4 0l8.4-8.4M740 379m-4.2-4.2l8.4 8.4m-8.4 0l8.4-8.4M781 385m-4.2-4.2l8.4 8.4m-8.4 0l8.4-8.4M825 385m-4.2-4.2l8.4 8.4m-8.4 0l8.4-8.4M825 388m-4.2-4.2l8.4 8.4m-8.4 0l8.4-8.4M778 407m-4.2-4.2l8.4 8.4m-8.4 0l8.4-8.4M781 407m-4.2-4.2l8.4 8.4m-8.4 0l8.4-8.4M784 406m-4.2-4.2l8.4 8.4m-8.4 0l8.4-8.4M787 406m-4.2-4.2l8.4 8.4m-8.4 0l8.4-8.4M790 407m-4.2-4.2l8.4 8.4m-8.4 0l8.4-8.4M792 407m-4.2-4.2l8.4 8.4m-8.4 0l8.4-8.4M798 411m-4.2-4.2l8.4 8.4m-8.4 0l8.4-8.4M831 409m-4.2-4.2l8.4 8.4m-8.4 0l8.4-8.4M858 415m-4.2-4.2l8.4 8.4m-8.4 0l8.4-8.4M688 415m-4.2-4.2l8.4 8.4m-8.4 0l8.4-8.4M728 414m-4.2-4.2l8.4 8.4m-8.4 0l8.4-8.4M670 420m-4.2-4.2l8.4 8.4m-8.4 0l8.4-8.4M655 425m-4.2-4.2l8.4 8.4m-8.4 0l8.4-8.4M658 425m-4.2-4.2l8.4 8.4m-8.4 0l8.4-8.4M661 425m-4.2-4.2l8.4 8.4m-8.4 0l8.4-8.4M664 425m-4.2-4.2l8.4 8.4m-8.4 0l8.4-8.4M667 425m-4.2-4.2l8.4 8.4m-8.4 0l8.4-8.4M675 435m-4.2-4.2l8.4 8.4m-8.4 0l8.4-8.4M685 435m-4.2-4.2l8.4 8.4m-8.4 0l8.4-8.4M690 435m-4.2-4.2l8.4 8.4m-8.4 0l8.4-8.4M681 434m-4.2-4.2l8.4 8.4m-8.4 0l8.4-8.4M684 433m-4.2-4.2l8.4 8.4m-8.4 0l8.4-8.4M687 434m-4.2-4.2l8.4 8.4m-8.4 0l8.4-8.4M690 433m-4.2-4.2l8.4 8.4m-8.4 0l8.4-8.4M694 428m-4.2-4.2l8.4 8.4m-8.4 0l8.4-8.4M688 430m-4.2-4.2l8.4 8.4m-8.4 0l8.4-8.4M712 429m-4.2-4.2l8.4 8.4m-8.4 0l8.4-8.4M714 438m-4.2-4.2l8.4 8.4m-8.4 0l8.4-8.4M739 427m-4.2-4.2l8.4 8.4m-8.4 0l8.4-8.4M738 433m-4.2-4.2l8.4 8.4m-8.4 0l8.4-8.4M738 437m-4.2-4.2l8.4 8.4m-8.4 0l8.4-8.4M731 446m-4.2-4.2l8.4 8.4m-8.4 0l8.4-8.4M734 446m-4.2-4.2l8.4 8.4m-8.4 0l8.4-8.4M737 446m-4.2-4.2l8.4 8.4m-8.4 0l8.4-8.4M740 446m-4.2-4.2l8.4 8.4m-8.4 0l8.4-8.4M682 456m-4.2-4.2l8.4 8.4m-8.4 0l8.4-8.4M684 456m-4.2-4.2l8.4 8.4m-8.4 0l8.4-8.4M686 456m-4.2-4.2l8.4 8.4m-8.4 0l8.4-8.4M688 456m-4.2-4.2l8.4 8.4m-8.4 0l8.4-8.4M690 456m-4.2-4.2l8.4 8.4m-8.4 0l8.4-8.4M662 476m-4.2-4.2l8.4 8.4m-8.4 0l8.4-8.4M759 498m-4.2-4.2l8.4 8.4m-8.4 0l8.4-8.4M770 425m-4.2-4.2l8.4 8.4m-8.4 0l8.4-8.4M781 423m-4.2-4.2l8.4 8.4m-8.4 0l8.4-8.4M798 426m-4.2-4.2l8.4 8.4m-8.4 0l8.4-8.4M801 426m-4.2-4.2l8.4 8.4m-8.4 0l8.4-8.4M804 425m-4.2-4.2l8.4 8.4m-8.4 0l8.4-8.4M807 425m-4.2-4.2l8.4 8.4m-8.4 0l8.4-8.4M810 426m-4.2-4.2l8.4 8.4m-8.4 0l8.4-8.4M813 426m-4.2-4.2l8.4 8.4m-8.4 0l8.4-8.4M815 426m-4.2-4.2l8.4 8.4m-8.4 0l8.4-8.4M755 442m-4.2-4.2l8.4 8.4m-8.4 0l8.4-8.4M757 442m-4.2-4.2l8.4 8.4m-8.4 0l8.4-8.4M759 442m-4.2-4.2l8.4 8.4m-8.4 0l8.4-8.4M761 442m-4.2-4.2l8.4 8.4m-8.4 0l8.4-8.4M763 442m-4.2-4.2l8.4 8.4m-8.4 0l8.4-8.4M765 442m-4.2-4.2l8.4 8.4m-8.4 0l8.4-8.4M775 442m-4.2-4.2l8.4 8.4m-8.4 0l8.4-8.4M777 445m-4.2-4.2l8.4 8.4m-8.4 0l8.4-8.4M783 447m-4.2-4.2l8.4 8.4m-8.4 0l8.4-8.4M781 457m-4.2-4.2l8.4 8.4m-8.4 0l8.4-8.4M790 447m-4.2-4.2l8.4 8.4m-8.4 0l8.4-8.4M793 447m-4.2-4.2l8.4 8.4m-8.4 0l8.4-8.4M796 447m-4.2-4.2l8.4 8.4m-8.4 0l8.4-8.4M798 447m-4.2-4.2l8.4 8.4m-8.4 0l8.4-8.4M795 450m-4.2-4.2l8.4 8.4m-8.4 0l8.4-8.4M807 446m-4.2-4.2l8.4 8.4m-8.4 0l8.4-8.4M810 446m-4.2-4.2l8.4 8.4m-8.4 0l8.4-8.4M813 446m-4.2-4.2l8.4 8.4m-8.4 0l8.4-8.4M815 446m-4.2-4.2l8.4 8.4m-8.4 0l8.4-8.4M817 446m-4.2-4.2l8.4 8.4m-8.4 0l8.4-8.4M823 423m-4.2-4.2l8.4 8.4m-8.4 0l8.4-8.4M827 423m-4.2-4.2l8.4 8.4m-8.4 0l8.4-8.4M830 423m-4.2-4.2l8.4 8.4m-8.4 0l8.4-8.4M834 423m-4.2-4.2l8.4 8.4m-8.4 0l8.4-8.4M837 423m-4.2-4.2l8.4 8.4m-8.4 0l8.4-8.4M832 428m-4.2-4.2l8.4 8.4m-8.4 0l8.4-8.4M829 434m-4.2-4.2l8.4 8.4m-8.4 0l8.4-8.4M842 424m-4.2-4.2l8.4 8.4m-8.4 0l8.4-8.4M847 424m-4.2-4.2l8.4 8.4m-8.4 0l8.4-8.4M851 424m-4.2-4.2l8.4 8.4m-8.4 0l8.4-8.4M855 424m-4.2-4.2l8.4 8.4m-8.4 0l8.4-8.4M859 424m-4.2-4.2l8.4 8.4m-8.4 0l8.4-8.4M862 423m-4.2-4.2l8.4 8.4m-8.4 0l8.4-8.4M866 424m-4.2-4.2l8.4 8.4m-8.4 0l8.4-8.4M870 424m-4.2-4.2l8.4 8.4m-8.4 0l8.4-8.4M875 424m-4.2-4.2l8.4 8.4m-8.4 0l8.4-8.4M879 424m-4.2-4.2l8.4 8.4m-8.4 0l8.4-8.4M883 424m-4.2-4.2l8.4 8.4m-8.4 0l8.4-8.4M858 420m-4.2-4.2l8.4 8.4m-8.4 0l8.4-8.4M830 443m-4.2-4.2l8.4 8.4m-8.4 0l8.4-8.4M834 443m-4.2-4.2l8.4 8.4m-8.4 0l8.4-8.4M837 443m-4.2-4.2l8.4 8.4m-8.4 0l8.4-8.4M841 443m-4.2-4.2l8.4 8.4m-8.4 0l8.4-8.4M844 443m-4.2-4.2l8.4 8.4m-8.4 0l8.4-8.4M848 443m-4.2-4.2l8.4 8.4m-8.4 0l8.4-8.4M833 448m-4.2-4.2l8.4 8.4m-8.4 0l8.4-8.4M843 450m-4.2-4.2l8.4 8.4m-8.4 0l8.4-8.4M868 439m-4.2-4.2l8.4 8.4m-8.4 0l8.4-8.4M881 428m-4.2-4.2l8.4 8.4m-8.4 0l8.4-8.4M879 426m-4.2-4.2l8.4 8.4m-8.4 0l8.4-8.4M881 438m-4.2-4.2l8.4 8.4m-8.4 0l8.4-8.4M885 438m-4.2-4.2l8.4 8.4m-8.4 0l8.4-8.4M881 446m-4.2-4.2l8.4 8.4m-8.4 0l8.4-8.4"/>
<rect x="57.5" y="32.3" width="867.5" height="504.7" fill="none" stroke="#000" stroke-width="1.1"/>
<g stroke="#000" stroke-width="1.1">
<line x1="52.6" y1="519.8" x2="57.5" y2="519.8"/>
<line x1="52.6" y1="442" x2="57.5" y2="442"/>
<line x1="52.6" y1="364.3" x2="57.5" y2="364.3"/>
<line x1="52.6" y1="286.5" x2="57.5" y2="286.5"/>
<line x1="52.6" y1="208.8" x2="57.5" y2="208.8"/>
<line x1="52.6" y1="131" x2="57.5" y2="131"/>
<line x1="52.6" y1="53.3" x2="57.5" y2="53.3"/>
<line x1="112.4" y1="537" x2="112.4" y2="541.9"/>
<line x1="270.6" y1="537" x2="270.6" y2="541.9"/>
<line x1="429" y1="537" x2="429" y2="541.9"/>
<line x1="587.6" y1="537" x2="587.6" y2="541.9"/>
<line x1="746.4" y1="537" x2="746.4" y2="541.9"/>
<line x1="905" y1="537" x2="905" y2="541.9"/>
</g>
<g font-size="13.89" text-anchor="end">
<text x="48" y="524.8">0</text>
<text x="48" y="447">10</text>
<text x="48" y="369.3">20</text>
<text x="48" y="291.5">30</text>
<text x="48" y="213.8">40</text>
<text x="48" y="136">50</text>
<text x="48" y="58.3">60</text>
</g>
<g font-size="13.89" text-anchor="middle">
<text x="112.4" y="557">2024-11-25 22:57:00</text>
<text x="270.6" y="557">2024-11-25 22:58:00</text>
<text x="429" y="557">2024-11-25 22:59:00</text>
<text x="587.6" y="557">2024-11-25 23:00:00</text>
<text x="746.4" y="557">2024-11-25 23:01:00</text>
<text x="905" y="557">2024-11-25 23:02:00</text>
<text x="491" y="577">Time (UTC)</text>
<text transform="translate(21 284.7) rotate(-90)">Bistatic Delay (km)</text>
</g>
<text x="491" y="24" font-size="16.67" text-anchor="middle">Detections in Delay</text>
</svg>
</body></html>
